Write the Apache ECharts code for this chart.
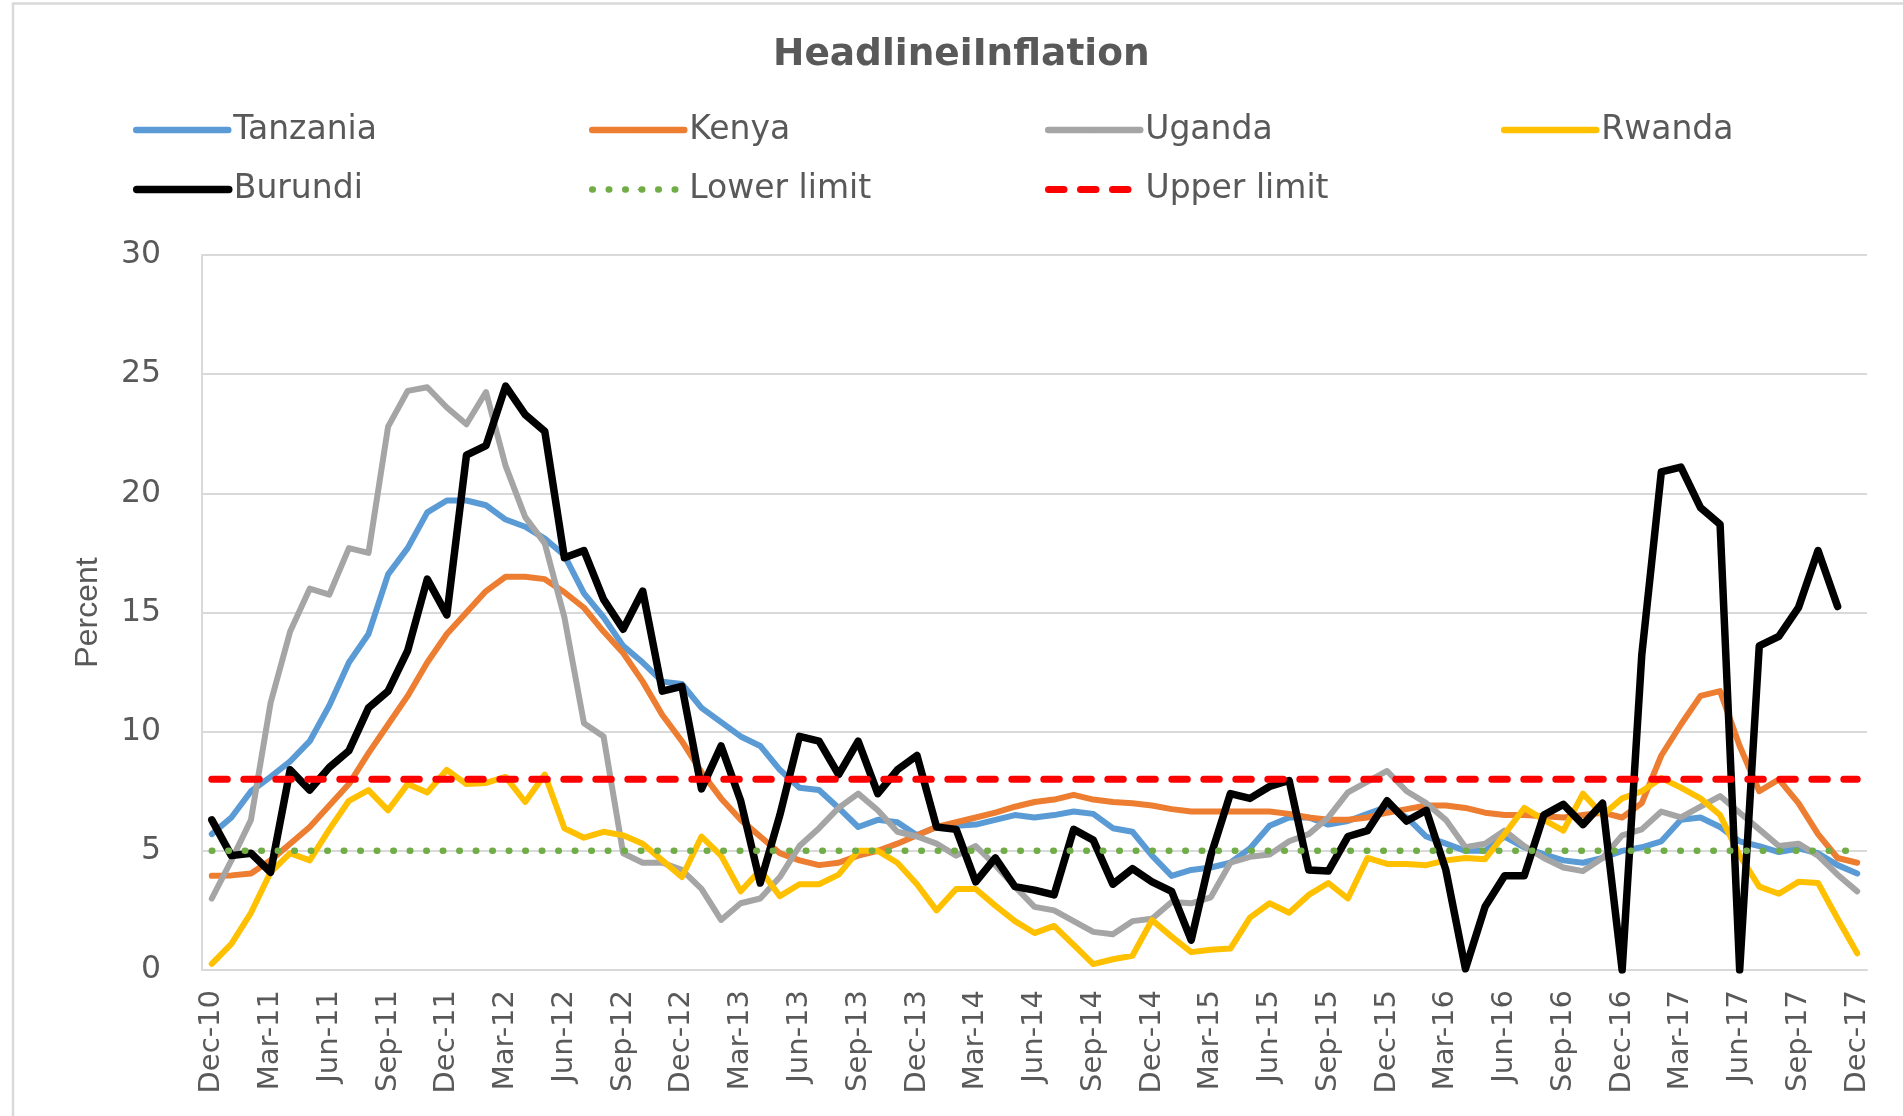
<!DOCTYPE html>
<html>
<head>
<meta charset="utf-8">
<script src="https://cdn.jsdelivr.net/npm/echarts@6/dist/echarts.min.js"></script>
<style>
html,body{margin:0;padding:0;background:#ffffff;}
#chart{width:1903px;height:1116px;}
</style>
</head>
<body>
<div id="chart"></div>
<script>
const categories = [
  'Dec-10',
  'Jan-11','Feb-11','Mar-11','Apr-11','May-11','Jun-11','Jul-11','Aug-11','Sep-11','Oct-11','Nov-11','Dec-11',
  'Jan-12','Feb-12','Mar-12','Apr-12','May-12','Jun-12','Jul-12','Aug-12','Sep-12','Oct-12','Nov-12','Dec-12',
  'Jan-13','Feb-13','Mar-13','Apr-13','May-13','Jun-13','Jul-13','Aug-13','Sep-13','Oct-13','Nov-13','Dec-13',
  'Jan-14','Feb-14','Mar-14','Apr-14','May-14','Jun-14','Jul-14','Aug-14','Sep-14','Oct-14','Nov-14','Dec-14',
  'Jan-15','Feb-15','Mar-15','Apr-15','May-15','Jun-15','Jul-15','Aug-15','Sep-15','Oct-15','Nov-15','Dec-15',
  'Jan-16','Feb-16','Mar-16','Apr-16','May-16','Jun-16','Jul-16','Aug-16','Sep-16','Oct-16','Nov-16','Dec-16',
  'Jan-17','Feb-17','Mar-17','Apr-17','May-17','Jun-17','Jul-17','Aug-17','Sep-17','Oct-17','Nov-17','Dec-17'
];

const tanzania = [
  5.7, 6.4, 7.5, 8.1, 8.75, 9.6, 11.1, 12.9, 14.1, 16.6, 17.7, 19.2, 19.7,
  19.7, 19.5, 18.9, 18.6, 18.1, 17.4, 15.8, 14.8, 13.6, 12.9, 12.1, 12.0,
  11.0, 10.4, 9.8, 9.4, 8.4, 7.65, 7.55, 6.8, 6.0, 6.3, 6.2, 5.65,
  6.0, 6.05, 6.1, 6.3, 6.5, 6.4, 6.5, 6.65, 6.55, 5.95, 5.8, 4.8,
  3.95, 4.2, 4.3, 4.5, 5.1, 6.05, 6.4, 6.4, 6.1, 6.25, 6.55, 6.85,
  6.4, 5.6, 5.3, 5.0, 5.0, 5.6, 5.15, 4.85, 4.6, 4.5, 4.7, 5.0,
  5.15, 5.4, 6.3, 6.4, 6.0, 5.4, 5.2, 4.95, 5.1, 4.9, 4.4, 4.05
];

const kenya = [
  3.95, 3.97, 4.05, 4.6, 5.3, 6.0, 6.9, 7.8, 9.1, 10.3, 11.5, 12.9, 14.1,
  15.0, 15.9, 16.5, 16.5, 16.4, 15.85, 15.2, 14.2, 13.3, 12.1, 10.7, 9.6,
  8.3, 7.2, 6.3, 5.6, 4.9, 4.6, 4.4, 4.5, 4.8, 5.0, 5.3, 5.65,
  6.0, 6.2, 6.4, 6.6, 6.85, 7.05, 7.15, 7.35, 7.15, 7.05, 7.0, 6.9,
  6.75, 6.65, 6.65, 6.65, 6.65, 6.65, 6.55, 6.4, 6.3, 6.3, 6.4, 6.6,
  6.75, 6.9, 6.9, 6.8, 6.6, 6.5, 6.5, 6.45, 6.4, 6.5, 6.6, 6.4,
  7.0, 9.0, 10.3, 11.5, 11.7, 9.4, 7.5, 8.0, 7.0, 5.7, 4.7, 4.5
];

const uganda = [
  3.0, 4.6, 6.3, 11.2, 14.2, 16.0, 15.75, 17.7, 17.5, 22.8, 24.3, 24.45, 23.6,
  22.9, 24.25, 21.15, 19.0, 17.9, 14.8, 10.35, 9.8, 4.9, 4.5, 4.5, 4.2,
  3.4, 2.1, 2.8, 3.0, 3.9, 5.2, 5.95, 6.8, 7.4, 6.7, 5.8, 5.6,
  5.3, 4.8, 5.2, 4.4, 3.5, 2.65, 2.5, 2.05, 1.6, 1.5, 2.05, 2.15,
  2.85, 2.8, 3.05, 4.5, 4.75, 4.85, 5.4, 5.7, 6.4, 7.45, 7.9, 8.35,
  7.5, 7.0, 6.3, 5.15, 5.3, 5.85, 5.2, 4.7, 4.3, 4.15, 4.7, 5.65,
  5.9, 6.65, 6.4, 6.85, 7.3, 6.6, 5.9, 5.2, 5.3, 4.8, 4.0, 3.3
];

const rwanda = [
  0.26, 1.1, 2.4, 4.1, 4.9, 4.6, 5.9, 7.1, 7.55, 6.7, 7.8, 7.45, 8.4,
  7.8, 7.85, 8.1, 7.05, 8.2, 5.95, 5.55, 5.8, 5.65, 5.3, 4.6, 3.9,
  5.6, 4.8, 3.3, 4.2, 3.1, 3.6, 3.6, 4.0, 5.0, 5.0, 4.5, 3.6,
  2.5, 3.4, 3.4, 2.7, 2.05, 1.55, 1.85, 1.05, 0.25, 0.45, 0.6, 2.1,
  1.4, 0.75, 0.85, 0.9, 2.2, 2.8, 2.4, 3.15, 3.65, 3.0, 4.7, 4.45,
  4.45, 4.4, 4.6, 4.7, 4.65, 5.7, 6.8, 6.3, 5.85, 7.4, 6.5, 7.2,
  7.5, 8.05, 7.65, 7.2, 6.5, 4.8, 3.5, 3.2, 3.7, 3.65, 2.15, 0.7
];

const burundi = [
  6.3, 4.8, 4.9, 4.1, 8.4, 7.55, 8.5, 9.2, 11.0, 11.7, 13.4, 16.4, 14.9,
  21.6, 22.0, 24.5, 23.3, 22.6, 17.3, 17.6, 15.55, 14.3, 15.9, 11.7, 11.9,
  7.6, 9.4, 7.1, 3.65, 6.5, 9.8, 9.6, 8.2, 9.6, 7.4, 8.4, 9.0,
  6.0, 5.9, 3.7, 4.7, 3.5, 3.35, 3.15, 5.9, 5.45, 3.6, 4.25, 3.7,
  3.3, 1.25, 4.8, 7.4, 7.2, 7.7, 7.95, 4.2, 4.15, 5.6, 5.85, 7.1,
  6.25, 6.7, 4.2, 0.05, 2.65, 3.95, 3.95, 6.5, 6.95, 6.1, 7.0, 0.0,
  13.2, 20.9, 21.1, 19.4, 18.7, 0.0, 13.6, 14.0, 15.2, 17.6, 15.25
];

const lowerLimit = [
  5, 5, 5, 5, 5, 5, 5, 5, 5, 5, 5, 5, 5,
  5, 5, 5, 5, 5, 5, 5, 5, 5, 5, 5, 5,
  5, 5, 5, 5, 5, 5, 5, 5, 5, 5, 5, 5,
  5, 5, 5, 5, 5, 5, 5, 5, 5, 5, 5, 5,
  5, 5, 5, 5, 5, 5, 5, 5, 5, 5, 5, 5,
  5, 5, 5, 5, 5, 5, 5, 5, 5, 5, 5, 5,
  5, 5, 5, 5, 5, 5, 5, 5, 5, 5, 5, 5
];

const upperLimit = [
  8, 8, 8, 8, 8, 8, 8, 8, 8, 8, 8, 8, 8,
  8, 8, 8, 8, 8, 8, 8, 8, 8, 8, 8, 8,
  8, 8, 8, 8, 8, 8, 8, 8, 8, 8, 8, 8,
  8, 8, 8, 8, 8, 8, 8, 8, 8, 8, 8, 8,
  8, 8, 8, 8, 8, 8, 8, 8, 8, 8, 8, 8,
  8, 8, 8, 8, 8, 8, 8, 8, 8, 8, 8, 8,
  8, 8, 8, 8, 8, 8, 8, 8, 8, 8, 8, 8
];

const seriesNames = ['Tanzania', 'Kenya', 'Uganda', 'Rwanda', 'Burundi', 'Lower limit', 'Upper limit'];

const TEXT = '#595959';
const GRIDC = '#D9D9D9';
const FONT = "'DejaVu Sans', 'Noto Sans', sans-serif";

function lineSeries(name, data, color, width, type, z) {
  return {
    name: name,
    type: 'line',
    data: data,
    symbol: 'none',
    showSymbol: false,
    smooth: false,
    z: z,
    silent: true,
    itemStyle: { color: color },
    lineStyle: { color: color, width: width, type: type, cap: 'round', join: 'round' },
    emphasis: { disabled: true }
  };
}

function legendAt(name, left, top, width) {
  return {
    data: [name],
    left: left,
    top: top,
    orient: 'horizontal',
    padding: 0,
    itemWidth: 92,
    itemHeight: 2,
    selectedMode: false,
    textStyle: { fontFamily: FONT, fontSize: 33, color: TEXT, lineHeight: 34 },
    lineStyle: { width: width }
  };
}

const chart = echarts.init(document.getElementById('chart'), null, { renderer: 'canvas' });

const option = {
  animation: false,
  backgroundColor: '#ffffff',
  title: {
    text: 'HeadlineiInflation',
    left: 773,
    top: 37,
    padding: 0,
    textStyle: { fontFamily: FONT, fontWeight: 'bold', fontSize: 37.5, color: TEXT, lineHeight: 37 }
  },
  graphic: [
    {
      type: 'rect',
      silent: true,
      z: -10,
      shape: { x: 13, y: 3.5, width: 2000, height: 1400 },
      style: { fill: 'none', stroke: GRIDC, lineWidth: 2.5 }
    }
  ],
  legend: [
    legendAt(seriesNames[0], 133, 113, 6.5),
    legendAt(seriesNames[1], 589, 113, 6.5),
    legendAt(seriesNames[2], 1045, 113, 6.5),
    legendAt(seriesNames[3], 1501, 113, 6.5),
    legendAt(seriesNames[4], 133, 172.5, 7.5),
    legendAt(seriesNames[5], 589, 172.5, 6.5),
    legendAt(seriesNames[6], 1045, 172.5, 7)
  ],
  grid: {
    left: 202,
    right: 36,
    top: 255,
    bottom: 146,
    containLabel: false,
    outerBoundsMode: 'none'
  },
  xAxis: {
    type: 'category',
    data: categories,
    boundaryGap: true,
    axisLine: { show: true, lineStyle: { color: GRIDC, width: 2 } },
    axisTick: { show: false },
    splitLine: { show: false },
    axisLabel: {
      interval: 2,
      rotate: 90,
      margin: 20,
      fontFamily: FONT,
      fontSize: 29,
      color: TEXT
    }
  },
  yAxis: {
    type: 'value',
    min: 0,
    max: 30,
    interval: 5,
    name: 'Percent',
    nameLocation: 'middle',
    nameRotate: 90,
    nameGap: 98,
    nameTextStyle: { fontFamily: "'Liberation Sans', sans-serif", fontSize: 32, color: TEXT },
    axisLine: { show: true, lineStyle: { color: GRIDC, width: 2 } },
    axisTick: { show: false },
    splitLine: { show: true, lineStyle: { color: GRIDC, width: 2 } },
    axisLabel: {
      margin: 41,
      fontFamily: FONT,
      fontSize: 31.5,
      color: TEXT
    }
  },
  series: [
    lineSeries(seriesNames[0], tanzania, '#5B9BD5', 6, 'solid', 2),
    lineSeries(seriesNames[1], kenya, '#ED7D31', 6, 'solid', 3),
    lineSeries(seriesNames[2], uganda, '#A5A5A5', 6, 'solid', 4),
    lineSeries(seriesNames[3], rwanda, '#FFC000', 6, 'solid', 5),
    lineSeries(seriesNames[4], burundi, '#000000', 7.5, 'solid', 6),
    lineSeries(seriesNames[5], lowerLimit, '#70AD47', 6.5, [0.5, 16], 7),
    lineSeries(seriesNames[6], upperLimit, '#FF0000', 7, [15.5, 16.5], 8)
  ]
};

chart.setOption(option);
</script>
</body>
</html>
